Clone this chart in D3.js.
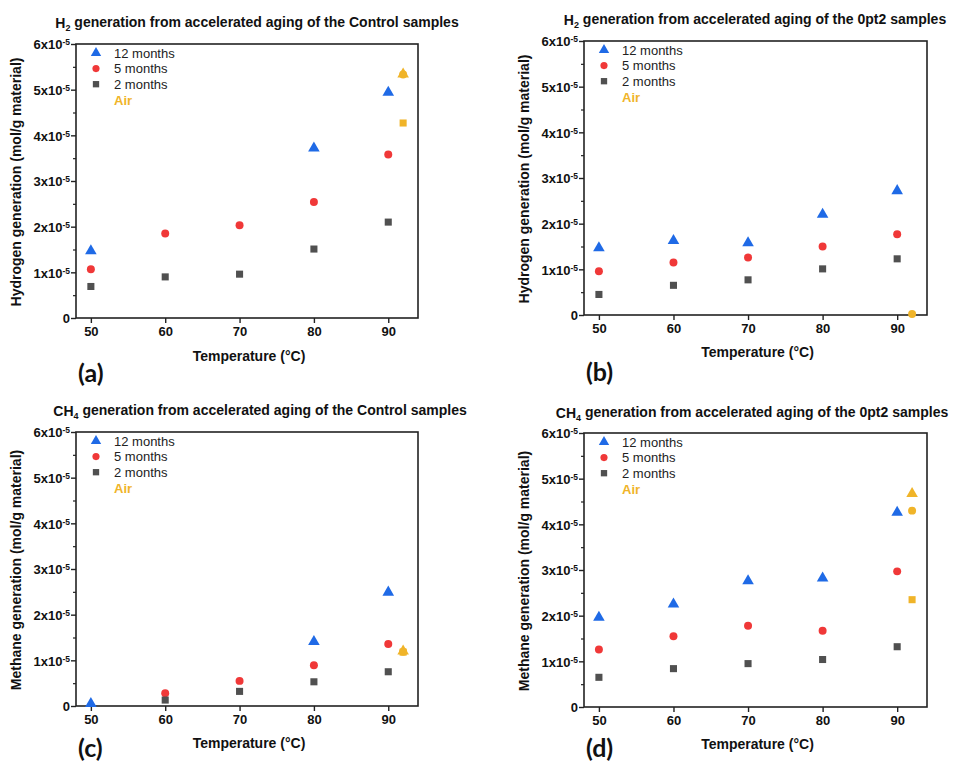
<!DOCTYPE html>
<meta charset="utf-8">
<script src="https://d3js.org/d3.v7.min.js"></script>
<style>
  body { margin: 0; background: #fff; }
  text { font-family: "Liberation Sans", Arial, sans-serif; }
</style>
<div id="my_dataviz"></div>
<script>

  // temperatures (°C)
  var temps = [50, 60, 70, 80, 90];
  var airTemp = 92;
  var yTicks = [0, 1e-5, 2e-5, 3e-5, 4e-5, 5e-5, 6e-5];
  var seriesNames = ["12 months", "5 months", "2 months"];

  // H2, Control (mol/g material)
  var h2Control12 = [1.47e-5, null, null, 3.72e-5, 4.94e-5];
  var h2Control5 = [1.07e-5, 1.85e-5, 2.03e-5, 2.54e-5, 3.58e-5];
  var h2Control2 = [0.69e-5, 0.90e-5, 0.96e-5, 1.51e-5, 2.10e-5];
  var h2ControlAir = [5.34e-5, 5.33e-5, 4.27e-5]; // triangle, circle, square

  // H2, 0pt2
  var h2Opt12 = [1.47e-5, 1.63e-5, 1.58e-5, 2.20e-5, 2.72e-5];
  var h2Opt5 = [0.96e-5, 1.15e-5, 1.26e-5, 1.50e-5, 1.77e-5];
  var h2Opt2 = [0.45e-5, 0.65e-5, 0.77e-5, 1.01e-5, 1.23e-5];
  var h2OptAir = [null, 0.02e-5, null];

  // CH4, Control
  var ch4Control12 = [0.05e-5, null, null, 1.41e-5, 2.49e-5];
  var ch4Control5 = [null, 0.28e-5, 0.55e-5, 0.89e-5, 1.36e-5];
  var ch4Control2 = [null, 0.13e-5, 0.32e-5, 0.53e-5, 0.75e-5];
  var ch4ControlAir = [1.20e-5, 1.19e-5, 1.18e-5];

  // CH4, 0pt2
  var ch4Opt12 = [1.96e-5, 2.25e-5, 2.76e-5, 2.82e-5, 4.26e-5];
  var ch4Opt5 = [1.26e-5, 1.55e-5, 1.78e-5, 1.67e-5, 2.97e-5];
  var ch4Opt2 = [0.65e-5, 0.84e-5, 0.95e-5, 1.04e-5, 1.32e-5];
  var ch4OptAir = [4.67e-5, 4.30e-5, 2.35e-5];

  var colors = ["#1f6ae6", "#f03838", "#505050"];
  var airColor = "#f0b429";
  var symbols = [d3.symbolTriangle, d3.symbolCircle, d3.symbolSquare];
  var symSizes = [58, 50, 50];

  var panels = [
    { left: 76, top: 44, right: 418, bottom: 318, gas: "H", sub: "2", group: "Control",
      ylabel: "Hydrogen generation (mol/g material)", tag: "(a)",
      titleX: 257, titleY: 28, tagY: 382, xTitleY: 361,
      series: [h2Control12, h2Control5, h2Control2], air: h2ControlAir },
    { left: 584, top: 41, right: 927, bottom: 315, gas: "H", sub: "2", group: "0pt2",
      ylabel: "Hydrogen generation (mol/g material)", tag: "(b)",
      titleX: 755, titleY: 25, tagY: 381, xTitleY: 357,
      series: [h2Opt12, h2Opt5, h2Opt2], air: h2OptAir },
    { left: 76, top: 432, right: 418, bottom: 706, gas: "CH", sub: "4", group: "Control",
      ylabel: "Methane generation (mol/g material)", tag: "(c)",
      titleX: 260, titleY: 416, tagY: 757, xTitleY: 748,
      series: [ch4Control12, ch4Control5, ch4Control2], air: ch4ControlAir },
    { left: 584, top: 433, right: 927, bottom: 707, gas: "CH", sub: "4", group: "0pt2",
      ylabel: "Methane generation (mol/g material)", tag: "(d)",
      titleX: 752, titleY: 418, tagY: 757, xTitleY: 749,
      series: [ch4Opt12, ch4Opt5, ch4Opt2], air: ch4OptAir }
  ];

  var svg = d3.select("#my_dataviz")
    .append("svg")
    .attr("width", 960)
    .attr("height", 765);

  panels.forEach(function (p) {
    var width = p.right - p.left,
      height = p.bottom - p.top;

    var g = svg.append("g")
      .attr("transform", "translate(" + p.left + "," + p.top + ")");

    var x = d3.scaleLinear().domain([48, 94]).range([0, width]);
    var y = d3.scaleLinear().domain([0, 6e-5]).range([height, 0]);

    // minor y ticks
    g.append("g")
      .call(d3.axisLeft(y).tickValues(d3.range(0.5e-5, 6e-5, 1e-5)).tickSize(3).tickFormat(""))
      .call(function (a) { a.select(".domain").remove(); })
      .selectAll("line").attr("stroke", "#222").attr("stroke-width", 1.2);

    // Y axis
    var yAxis = g.append("g")
      .call(d3.axisLeft(y).tickValues(yTicks).tickSize(5).tickFormat(""));
    yAxis.select(".domain").remove();
    yAxis.selectAll("line").attr("stroke", "#222").attr("stroke-width", 1.4);
    yAxis.selectAll(".tick").each(function (d) {
      var t = d3.select(this).append("text")
        .attr("x", -6)
        .attr("dy", "0.38em")
        .attr("text-anchor", "end")
        .attr("fill", "#111")
        .style("font-size", "13px")
        .style("font-weight", "bold");
      if (d === 0) {
        t.text("0");
      } else {
        t.append("tspan").text(Math.round(d / 1e-5) + "x10");
        t.append("tspan").attr("dy", "-0.5em").style("font-size", "8.5px").text("-5");
      }
    });

    // X axis
    var xAxis = g.append("g")
      .attr("transform", "translate(0," + height + ")")
      .call(d3.axisBottom(x).tickValues(temps).tickSize(5).tickPadding(4));
    xAxis.select(".domain").remove();
    xAxis.selectAll("line").attr("stroke", "#222").attr("stroke-width", 1.4);
    xAxis.selectAll("text")
      .attr("fill", "#111")
      .style("font-size", "13px")
      .style("font-weight", "bold")
      .style("font-family", "Liberation Sans, Arial, sans-serif");

    // frame
    g.append("rect")
      .attr("width", width)
      .attr("height", height)
      .attr("fill", "none")
      .attr("stroke", "#222")
      .attr("stroke-width", 1.6);

    // points
    p.series.forEach(function (vals, i) {
      g.selectAll(null)
        .data(temps.map(function (t, k) { return { t: t, v: vals[k] }; })
          .filter(function (d) { return d.v !== null; }))
        .enter()
        .append("path")
        .attr("d", d3.symbol().type(symbols[i]).size(symSizes[i]))
        .attr("transform", function (d) { return "translate(" + x(d.t) + "," + y(d.v) + ")"; })
        .attr("fill", colors[i]);
    });

    // air points
    [2, 1, 0].forEach(function (i) {
      if (p.air[i] === null) return;
      g.append("path")
        .attr("d", d3.symbol().type(symbols[i]).size(symSizes[i]))
        .attr("transform", "translate(" + x(airTemp) + "," + y(p.air[i]) + ")")
        .attr("fill", airColor);
    });

    // legend
    var leg = g.append("g").attr("transform", "translate(20,0)");
    seriesNames.forEach(function (name, i) {
      var yy = 9 + i * 15.6;
      leg.append("path")
        .attr("d", d3.symbol().type(symbols[i]).size(symSizes[i] * 0.8))
        .attr("transform", "translate(0," + yy + ")")
        .attr("fill", colors[i]);
      leg.append("text")
        .attr("x", 18)
        .attr("y", yy)
        .attr("dy", "0.35em")
        .attr("fill", "#222")
        .style("font-size", "13px")
        .text(name);
    });
    leg.append("text")
      .attr("x", 18)
      .attr("y", 56)
      .attr("dy", "0.35em")
      .attr("fill", airColor)
      .style("font-size", "13px")
      .style("font-weight", "bold")
      .text("Air");

    // title
    var title = svg.append("text")
      .attr("x", p.titleX)
      .attr("y", p.titleY)
      .attr("text-anchor", "middle")
      .attr("fill", "#111")
      .style("font-size", "14px")
      .style("font-weight", "bold");
    title.append("tspan").text(p.gas);
    title.append("tspan").attr("dy", "0.3em").style("font-size", "9px").text(p.sub);
    title.append("tspan").attr("dy", "-0.3em")
      .text(" generation from accelerated aging of the " + p.group + " samples");

    // axis titles
    svg.append("text")
      .attr("x", p.left + width / 2 + 2)
      .attr("y", p.xTitleY)
      .attr("text-anchor", "middle")
      .attr("fill", "#111")
      .style("font-size", "14px")
      .style("font-weight", "bold")
      .text("Temperature (°C)");

    svg.append("text")
      .attr("transform", "translate(" + (p.left - 55) + "," + (p.top + height / 2 + 1) + ") rotate(-90)")
      .attr("text-anchor", "middle")
      .attr("fill", "#111")
      .style("font-size", "14px")
      .style("font-weight", "bold")
      .text(p.ylabel);

    // panel tag
    svg.append("text")
      .attr("x", p.left + 2)
      .attr("y", p.tagY)
      .attr("fill", "#111")
      .style("font-family", "Lato, 'Open Sans', sans-serif")
      .style("font-size", "25px")
      .style("font-weight", "bold")
      .text(p.tag);
  });

</script>
